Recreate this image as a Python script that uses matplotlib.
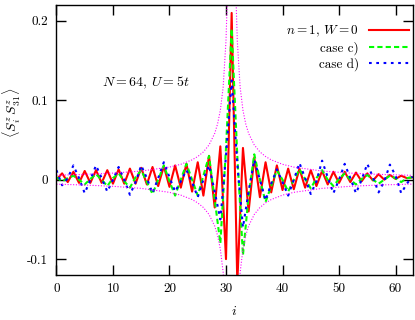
import numpy as np
import matplotlib
matplotlib.use("Agg")
import matplotlib.pyplot as plt

plt.rcParams['font.family'] = 'serif'
plt.rcParams['font.serif'] = ['cmr10']
plt.rcParams['mathtext.fontset'] = 'cm'
plt.rcParams['axes.unicode_minus'] = False
plt.rcParams['axes.formatter.use_mathtext'] = True

# site index (correlations measured from site 31)
sites = np.arange(64)

# n=1, W=0
red_vals = [0.000, 0.008, -0.003, 0.010, -0.004, 0.011, -0.004, 0.012,
            -0.004, 0.012, -0.005, 0.013, -0.005, 0.014, -0.005, 0.015,
            -0.006, 0.016, -0.008, 0.017, -0.009, 0.018, -0.010, 0.020,
            -0.015, 0.022, -0.020, 0.030, -0.035, 0.042, -0.100, 0.210,
            -0.130, 0.040, -0.040, 0.028, -0.022, 0.022, -0.016, 0.018,
            -0.013, 0.014, -0.012, 0.014, -0.010, 0.012, -0.008, 0.011,
            -0.006, 0.010, -0.004, 0.010, -0.003, 0.009, -0.002, 0.008,
            -0.001, 0.007, 0.000, 0.006, 0.001, 0.005, 0.002, 0.003]

# case c)
green_vals = [0.003, -0.002, 0.002, 0.005, 0.000, -0.006, 0.001, 0.007,
              0.000, -0.008, 0.002, 0.008, -0.002, -0.010, 0.003, 0.012,
              -0.003, -0.018, 0.000, 0.018, -0.002, -0.020, 0.000, 0.020,
              0.000, -0.020, 0.005, 0.030, -0.025, -0.080, 0.040, 0.190,
              0.030, -0.095, -0.020, 0.032, 0.000, -0.028, -0.008, 0.012,
              0.000, -0.015, 0.000, 0.013, 0.001, -0.011, 0.002, 0.012,
              0.000, -0.008, 0.001, 0.008, 0.000, -0.006, 0.001, 0.006,
              0.000, -0.005, 0.000, 0.005, 0.002, -0.003, 0.002, 0.003]

# case d)
blue_vals = [0.012, -0.007, 0.002, 0.018, 0.002, -0.017, 0.000, 0.018,
             0.002, -0.015, 0.000, 0.016, 0.000, -0.019, -0.003, 0.018,
             0.002, -0.017, 0.002, 0.022, 0.003, -0.015, -0.002, 0.012,
             -0.003, -0.022, 0.000, 0.018, -0.015, -0.050, 0.030, 0.125,
             0.020, -0.060, -0.015, 0.025, 0.000, -0.026, -0.005, 0.013,
             -0.003, -0.020, 0.000, 0.021, 0.002, -0.018, -0.002, 0.024,
             0.003, -0.017, 0.000, 0.020, 0.002, -0.017, 0.000, 0.020,
             0.003, -0.016, -0.002, 0.019, 0.005, -0.017, -0.005, 0.004]

# envelope curve (upper half; lower half is its mirror)
env_x = [0, 5, 10, 15, 20, 22, 24, 25, 26, 27, 28, 28.5, 29, 29.5, 30, 30.25,
         31.75, 32, 32.5, 33, 33.5, 34, 35, 36, 37, 38, 40, 42, 47, 52, 57, 63]
env_hi = [0.0056, 0.0067, 0.0083, 0.0109, 0.0159, 0.0194, 0.0250, 0.0292,
          0.0350, 0.0438, 0.0583, 0.0700, 0.0875, 0.1167, 0.1750, 0.2330,
          0.2330, 0.1750, 0.1167, 0.0875, 0.0700, 0.0583, 0.0438, 0.0350,
          0.0292, 0.0250, 0.0194, 0.0159, 0.0109, 0.0083, 0.0067, 0.0055]

xticks = [0, 10, 20, 30, 40, 50, 60]
yticks = [-0.1, 0, 0.1, 0.2]
ytick_labels = ['-0.1', '0', '0.1', '0.2']

fig = plt.figure(figsize=(4.15, 3.2), dpi=100)
ax = fig.add_axes([0.136, 0.1406, 0.858, 0.8438])

ax.plot(sites, red_vals, color='#ff0000', lw=1.5, label=r'$n=1,\,W=0$')
ax.plot(sites, green_vals, color='#00ff00', lw=1.5, ls=(0, (2.5, 1.5)), label='case c)')
ax.plot(sites, blue_vals, color='#0000ff', lw=1.5, ls=(0, (1.3, 2.2)), label='case d)')
ax.plot(env_x, env_hi, color='#ff00ff', lw=0.8, ls=(0, (1, 1.5)))
ax.plot(env_x, -np.array(env_hi), color='#ff00ff', lw=0.8, ls=(0, (1, 1.5)))

ax.set_xlim(0, 63)
ax.set_ylim(-0.12, 0.22)
ax.set_xticks(xticks)
ax.set_xticklabels([str(t) for t in xticks])
ax.set_yticks(yticks)
ax.set_yticklabels(ytick_labels)
ax.tick_params(direction='in', length=7, width=1, top=True, right=True,
               labelsize=9.5, pad=6)
for s in ax.spines.values():
    s.set_linewidth(1.0)

ax.set_xlabel(r'$i$', fontsize=10)
ax.xaxis.set_label_coords(0.5, -0.11)
ax.set_ylabel(r'$\langle S_i^z\, S_{31}^z\rangle$', fontsize=10)
ax.yaxis.set_label_coords(-0.095, 0.6)

ax.text(8, 0.122, r'$N=64,\,U=5t$', fontsize=10, va='center', ha='left')

leg = ax.legend(loc='upper right', bbox_to_anchor=(0.99, 0.93), frameon=False,
                markerfirst=False, fontsize=9.5, handlelength=3.0,
                handletextpad=0.8, labelspacing=0.2, borderpad=0,
                borderaxespad=0)

fig.savefig('out.png', dpi=100)
